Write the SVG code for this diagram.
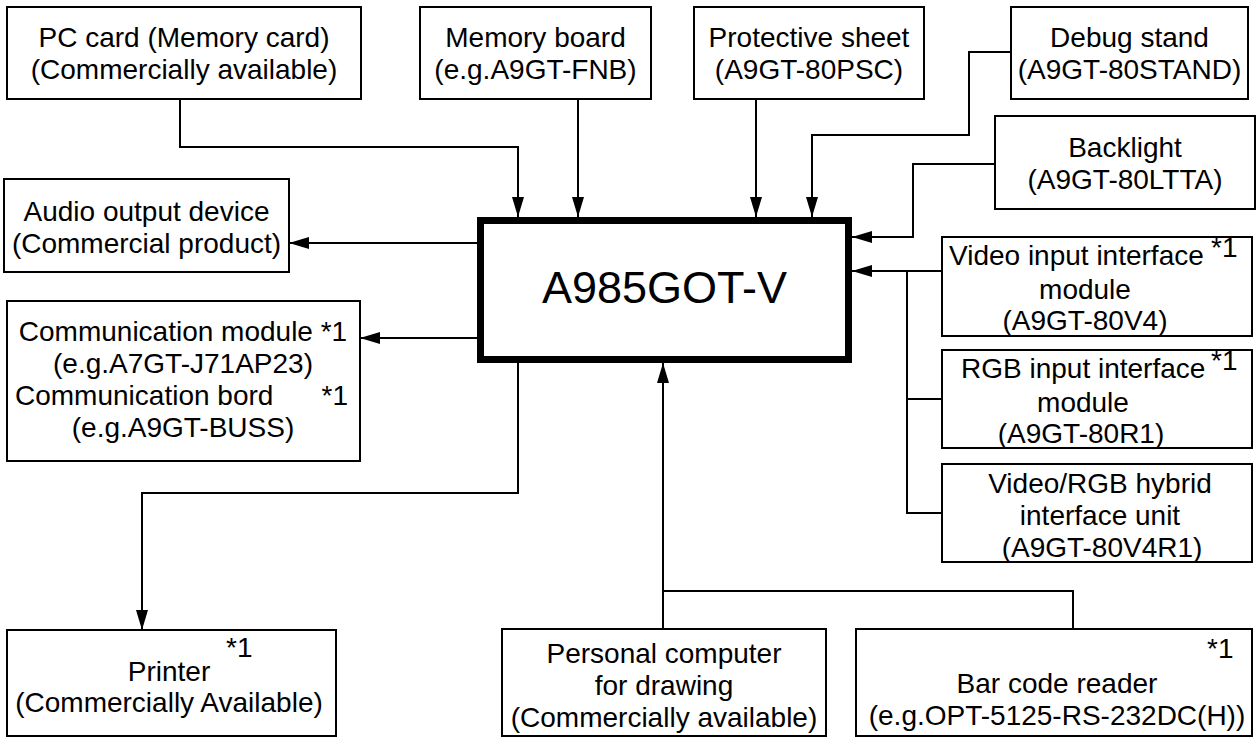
<svg xmlns="http://www.w3.org/2000/svg" width="1257" height="738" viewBox="0 0 1257 738">
<style>
.box{fill:#fff;stroke:#000;stroke-width:2}
.main{fill:#fff;stroke:#000;stroke-width:7}
.t{font-family:"Liberation Sans",Arial,Helvetica,sans-serif;font-size:28px;fill:#000}
.c{text-anchor:middle}
.e{text-anchor:end}
.big{font-family:"Liberation Sans",Arial,Helvetica,sans-serif;font-size:45px;fill:#000;text-anchor:middle}
.ln{fill:none;stroke:#000;stroke-width:2}
.ar{marker-end:url(#ah)}
</style>
<defs>
<marker id="ah" markerUnits="userSpaceOnUse" markerWidth="20" markerHeight="12" viewBox="0 0 20 12" refX="20" refY="6" orient="auto">
<path d="M0,0 L20,6 L0,12 z" fill="#000"/>
</marker>
</defs>
<rect width="1257" height="738" fill="#fff"/>
<g id="connectors">
<path class="ln ar" d="M180,99 V147 H518 V217"/>
<path class="ln ar" d="M578,99 V217"/>
<path class="ln ar" d="M756,99 V217"/>
<path class="ln ar" d="M1011,52 H969 V135 H812 V217"/>
<path class="ln ar" d="M995,164 H913 V237 H852"/>
<path class="ln ar" d="M942,271 H852"/>
<path class="ln" d="M907,271 V513 H942"/>
<path class="ln" d="M907,399 H942"/>
<path class="ln ar" d="M477,243 H289"/>
<path class="ln ar" d="M477,338 H360"/>
<path class="ln ar" d="M518,363 V493 H142 V630"/>
<path class="ln" d="M663,629 V591 H1073 V629"/>
<path class="ln ar" d="M663,591 V363"/>
</g>
<g id="main">
<rect class="main" x="480.5" y="220.5" width="368" height="139"/>
<text class="big" x="664.5" y="303">A985GOT-V</text>
</g>
<g id="pccard">
<rect class="box" x="7" y="7" width="354" height="92"/>
<text class="t c" x="184" y="47">PC card (Memory card)</text>
<text class="t c" x="184" y="79">(Commercially available)</text>
</g>
<g id="memoryboard">
<rect class="box" x="420" y="7" width="231" height="92"/>
<text class="t c" x="535.5" y="47">Memory board</text>
<text class="t c" x="535.5" y="79">(e.g.A9GT-FNB)</text>
</g>
<g id="protective">
<rect class="box" x="694" y="7" width="230" height="92"/>
<text class="t c" x="809" y="47">Protective sheet</text>
<text class="t c" x="809" y="79">(A9GT-80PSC)</text>
</g>
<g id="debug">
<rect class="box" x="1011" y="7" width="237" height="92"/>
<text class="t c" x="1129.5" y="47">Debug stand</text>
<text class="t c" x="1129.5" y="79">(A9GT-80STAND)</text>
</g>
<g id="backlight">
<rect class="box" x="995" y="116" width="260" height="93"/>
<text class="t c" x="1125" y="157">Backlight</text>
<text class="t c" x="1125" y="189">(A9GT-80LTTA)</text>
</g>
<g id="audio">
<rect class="box" x="4" y="179" width="285" height="93"/>
<text class="t c" x="146.5" y="221">Audio output device</text>
<text class="t c" x="146.5" y="253">(Commercial product)</text>
</g>
<g id="comm">
<rect class="box" x="7" y="301" width="353" height="160"/>
<text class="t c" x="183" y="341">Communication module *1</text>
<text class="t c" x="183" y="373">(e.g.A7GT-J71AP23)</text>
<text class="t" x="15" y="405">Communication bord</text>
<text class="t e" x="348" y="405">*1</text>
<text class="t c" x="183" y="437">(e.g.A9GT-BUSS)</text>
</g>
<g id="video">
<rect class="box" x="942" y="237" width="310" height="99"/>
<text class="t" x="949" y="265">Video input interface</text>
<text class="t" x="1211" y="257">*1</text>
<text class="t c" x="1085" y="299">module</text>
<text class="t c" x="1085" y="330">(A9GT-80V4)</text>
</g>
<g id="rgb">
<rect class="box" x="942" y="350" width="310" height="98"/>
<text class="t" x="961" y="378">RGB input interface</text>
<text class="t" x="1211" y="370">*1</text>
<text class="t c" x="1083" y="412">module</text>
<text class="t c" x="1081" y="443">(A9GT-80R1)</text>
</g>
<g id="hybrid">
<rect class="box" x="942" y="464" width="310" height="98"/>
<text class="t c" x="1100" y="493">Video/RGB hybrid</text>
<text class="t c" x="1100" y="525">interface unit</text>
<text class="t c" x="1102" y="557">(A9GT-80V4R1)</text>
</g>
<g id="printer">
<rect class="box" x="7" y="630" width="329" height="106"/>
<text class="t" x="226" y="657">*1</text>
<text class="t c" x="169" y="681">Printer</text>
<text class="t c" x="169" y="712">(Commercially Available)</text>
</g>
<g id="pc">
<rect class="box" x="502" y="629" width="324" height="107"/>
<text class="t c" x="664" y="663">Personal computer</text>
<text class="t c" x="664" y="695">for drawing</text>
<text class="t c" x="664" y="727">(Commercially available)</text>
</g>
<g id="barcode">
<rect class="box" x="856" y="629" width="396" height="107"/>
<text class="t" x="1207" y="658">*1</text>
<text class="t c" x="1057" y="693">Bar code reader</text>
<text class="t c" x="1057" y="725">(e.g.OPT-5125-RS-232DC(H))</text>
</g>
</svg>
